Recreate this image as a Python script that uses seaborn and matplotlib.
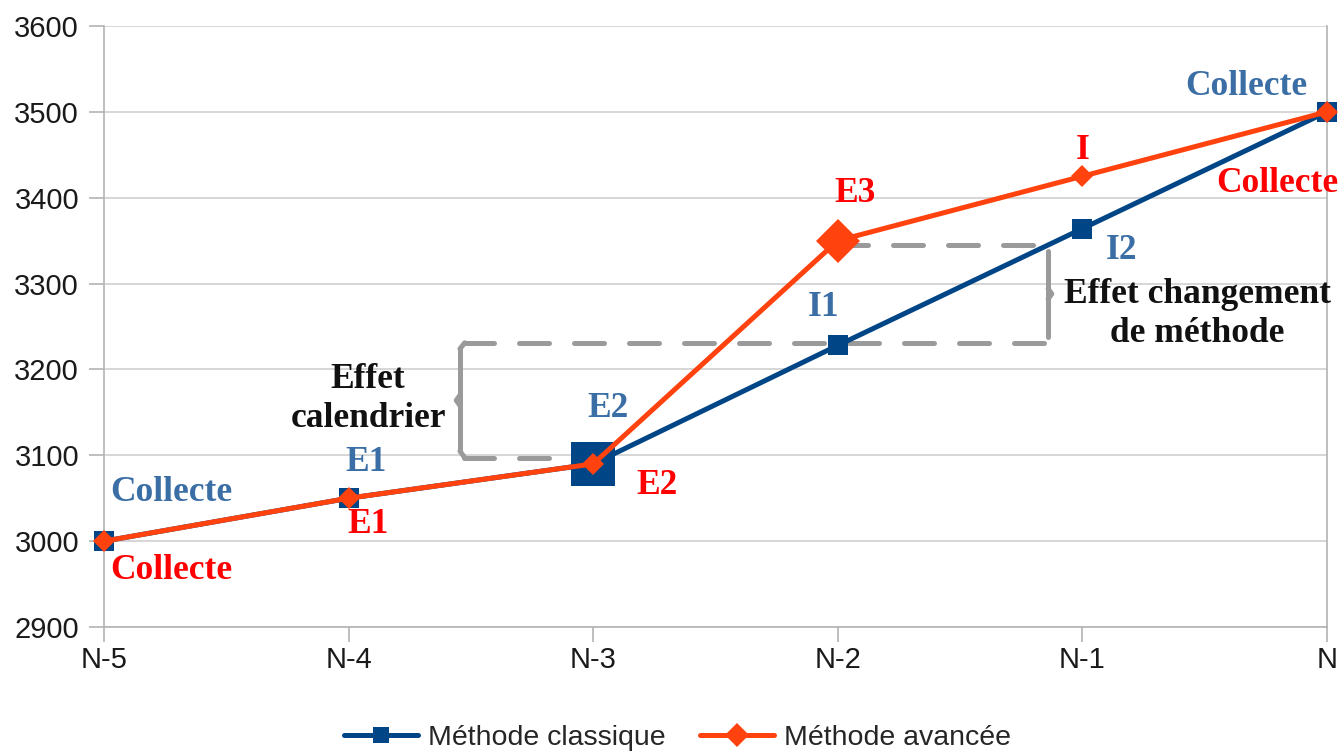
import numpy as np
import pandas as pd
import matplotlib
matplotlib.use("Agg")
import matplotlib.pyplot as plt
import seaborn as sns

# Data
YEARS = ["N-5", "N-4", "N-3", "N-2", "N-1", "N"]
CLASSIQUE = [3000, 3050, 3090, 3228, 3364, 3500]
AVANCEE = [3000, 3050, 3090, 3350, 3425, 3500]
SERIES_NAMES = ["Méthode classique", "Méthode avancée"]
Y_TICKS = [2900, 3000, 3100, 3200, 3300, 3400, 3500, 3600]

BLUE = "#004586"
ORANGE = "#ff420e"
LBL_BLUE = "#3a6ea5"
LBL_RED = "#ff0000"
GREY = "#9a9a9a"

sns.set_theme(style="white")
plt.rcParams['font.family'] = ['Liberation Sans', 'DejaVu Sans']

pos = np.arange(len(YEARS))
df = pd.DataFrame({
    "pos": np.concatenate([pos, pos]),
    "val": CLASSIQUE + AVANCEE,
    "serie": [SERIES_NAMES[0]] * len(YEARS) + [SERIES_NAMES[1]] * len(YEARS),
})

fig = plt.figure(figsize=(13.39, 7.52), dpi=100)
ax = fig.add_axes([0.0777, 0.1662, 0.9133, 0.7992])

sns.lineplot(data=df[df.serie == SERIES_NAMES[0]], x="pos", y="val", color=BLUE,
             marker="s", markersize=15, markeredgewidth=0, linewidth=3.6,
             label=SERIES_NAMES[0], ax=ax, zorder=3, clip_on=False)
sns.lineplot(data=df[df.serie == SERIES_NAMES[1]], x="pos", y="val", color=ORANGE,
             marker="D", markersize=11, markeredgewidth=0, linewidth=3.6,
             label=SERIES_NAMES[1], ax=ax, zorder=4, clip_on=False)
# highlighted points
ax.plot(pos[2], CLASSIQUE[2], marker="s", markersize=32, color=BLUE, mew=0, zorder=3)
ax.plot(pos[3], AVANCEE[3], marker="D", markersize=22, color=ORANGE, mew=0, zorder=4)

ax.set_xlim(0, 5)
ax.set_ylim(2900, 3600)
ax.set_yticks(Y_TICKS)
ax.set_xticks(pos)
ax.set_xticklabels(YEARS)
ax.set_xlabel("")
ax.set_ylabel("")
ax.tick_params(axis="both", labelsize=21, length=11, width=1.2, color="#b3b3b3",
               direction="out", pad=3, labelcolor="#1a1a1a", bottom=True, left=True)
ax.tick_params(axis="y", pad=7)
ax.yaxis.grid(True, color="#cfcfcf", linewidth=1.2)
ax.set_axisbelow(True)
for s in ["left", "bottom", "right"]:
    ax.spines[s].set_color("#b3b3b3")
    ax.spines[s].set_linewidth(1.2)
ax.spines["top"].set_visible(False)

# dashed guides and braces
dash = dict(color=GREY, linewidth=3.6, linestyle=(0, (6, 5)), dash_capstyle="round",
            zorder=2)
ax.plot([1.47, 2.0], [3097, 3097], **dash)
ax.plot([1.47, 3.86], [3231, 3231], **dash)
ax.plot([3.0, 3.86], [3345, 3345], **dash)
br = dict(color=GREY, linewidth=3.6, solid_capstyle="round", zorder=2)
ax.plot([1.455, 1.455], [3105, 3224], **br)
ax.plot([1.455, 1.44, 1.455], [3170, 3164, 3158], **br)
ax.plot([1.455, 1.475], [3224, 3231], **br)
ax.plot([1.455, 1.475], [3105, 3097], **br)
ax.plot([3.86, 3.86], [3238, 3338], **br)
ax.plot([3.86, 3.875, 3.86], [3294, 3288, 3282], **br)

serif = dict(family=["Liberation Serif", "DejaVu Serif"], fontweight="bold", fontsize=25.5)
ax.text(0.025, 3057, "Collecte", color=LBL_BLUE, ha="left", va="center", **serif)
ax.text(0.025, 2966, "Collecte", color=LBL_RED, ha="left", va="center", **serif)
ax.text(1.07, 3092, "E1", color=LBL_BLUE, ha="center", va="center", **serif)
ax.text(1.08, 3019, "E1", color=LBL_RED, ha="center", va="center", **serif)
ax.text(2.06, 3155, "E2", color=LBL_BLUE, ha="center", va="center", **serif)
ax.text(2.26, 3065, "E2", color=LBL_RED, ha="center", va="center", **serif)
ax.text(2.94, 3272, "I1", color=LBL_BLUE, ha="center", va="center", **serif)
ax.text(3.07, 3405, "E3", color=LBL_RED, ha="center", va="center", **serif)
ax.text(4.0, 3455, "I", color=LBL_RED, ha="center", va="center", **serif)
ax.text(4.16, 3339, "I2", color=LBL_BLUE, ha="center", va="center", **serif)
ax.text(4.92, 3530, "Collecte", color=LBL_BLUE, ha="right", va="center", **serif)
ax.text(5.045, 3417, "Collecte", color=LBL_RED, ha="right", va="center", **serif)
ax.text(1.08, 3166, "Effet\ncalendrier", color="#111111", ha="center", va="center",
        linespacing=1.25, **serif)
ax.text(4.47, 3265, "Effet changement\nde méthode", color="#111111", ha="center",
        va="center", linespacing=1.25, **serif)

leg = ax.legend(loc="upper center", bbox_to_anchor=(0.469, -0.12), ncol=2, frameon=False,
                fontsize=20.5, handlelength=2.6, columnspacing=1.2, handletextpad=0.35)
for h in leg.legend_handles:
    h.set_markersize(12)

fig.savefig("out.png", dpi=100)
